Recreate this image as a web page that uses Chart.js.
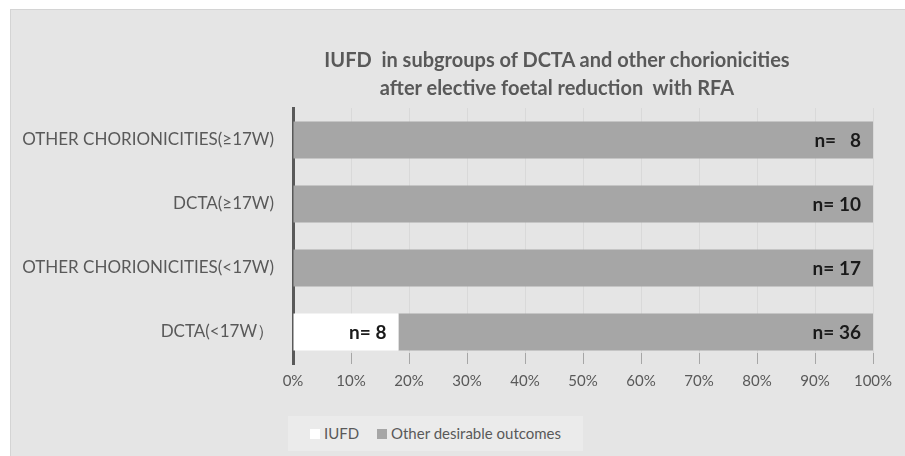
<!DOCTYPE html>
<html>
<head>
<meta charset="utf-8">
<script src="https://cdn.jsdelivr.net/npm/chart.js@4.4.1/dist/chart.umd.min.js"></script>
<style>
  body { margin: 0; background: #fff; }
  #wrap {
    position: absolute; left: 10px; top: 9px; width: 895px; height: 447px;
    background: #e5e5e5; border-top: 1px solid #d4d4d4; border-left: 1px solid #d4d4d4;
    box-sizing: border-box; font-family: Lato, "Open Sans", sans-serif;
  }
  #title {
    position: absolute; left: 246px; width: 600px; top: 35px; text-align: center;
    color: #595959; font-weight: bold; font-size: 20px; line-height: 28px;
  }
  #legend {
    position: absolute; left: 277px; top: 406px; width: 295px; height: 35px;
    background: #ebebeb; color: #595959; font-size: 15px;
  }
  #legend span.item { position: absolute; top: 8px; white-space: nowrap; }
  #legend i { display: inline-block; width: 10px; height: 10px; margin-right: 4px; vertical-align: 0px; }
  canvas { position: absolute; left: 0; top: 0; }
</style>
</head>
<body>
<div id="wrap">
  <canvas id="iufdChart" width="894" height="446"></canvas>
  <div id="title">IUFD&nbsp; in subgroups of DCTA and other chorionicities<br>after elective foetal reduction&nbsp; with RFA</div>
  <div id="legend"></div>
</div>
<script>
// Data
const categories = ["OTHER CHORIONICITIES(≥17W)", "DCTA(≥17W)", "OTHER CHORIONICITIES(<17W)", "DCTA(<17W\uFF09"];
const iufdCounts = [0, 0, 0, 8];
const otherCounts = [8, 10, 17, 36];
const seriesNames = ["IUFD", "Other desirable outcomes"];
const seriesColors = ["#ffffff", "#a6a6a6"];
const xTicks = [0, 10, 20, 30, 40, 50, 60, 70, 80, 90, 100];

const totals = iufdCounts.map((v, i) => v + otherCounts[i]);
const toPct = (arr) => arr.map((v, i) => (v / totals[i]) * 100);

// n= labels inside bars
const nLabels = {
  id: "nLabels",
  afterDatasetsDraw(chart) {
    const ctx = chart.ctx;
    ctx.save();
    ctx.font = "bold 19px Lato, 'Open Sans', sans-serif";
    ctx.fillStyle = "#1a1a1a";
    ctx.textAlign = "right";
    ctx.textBaseline = "middle";
    const counts = [iufdCounts, otherCounts];
    chart.data.datasets.forEach((ds, di) => {
      chart.getDatasetMeta(di).data.forEach((bar, i) => {
        const v = counts[di][i];
        if (!v) return;
        let txt = "n= " + v;
        if (di === 1 && v < 10) txt = "n=   " + v;
        ctx.fillText(txt, bar.x - 12, bar.y + 1);
      });
    });
    ctx.restore();
  },
};

// darker tick marks under the last bar
const tickMarks = {
  id: "tickMarks",
  afterDraw(chart) {
    const ctx = chart.ctx;
    const xs = chart.scales.x;
    const a = chart.chartArea;
    ctx.save();
    ctx.strokeStyle = "#a6a6a6";
    ctx.lineWidth = 1;
    xTicks.forEach((t) => {
      const x = Math.round(xs.getPixelForValue(t)) + 0.5;
      if (t === 0) return;
      ctx.beginPath();
      ctx.moveTo(x, a.bottom - 11);
      ctx.lineTo(x, a.bottom);
      ctx.stroke();
    });
    ctx.restore();
  },
};

const chartEl = document.getElementById("iufdChart");
new Chart(chartEl.getContext("2d"), {
  type: "bar",
  data: {
    labels: categories,
    datasets: [
      {
        label: seriesNames[0],
        data: toPct(iufdCounts),
        backgroundColor: seriesColors[0],
        borderWidth: 0,
        categoryPercentage: 1,
        barPercentage: 0.58,
      },
      {
        label: seriesNames[1],
        data: toPct(otherCounts),
        backgroundColor: seriesColors[1],
        borderWidth: 0,
        categoryPercentage: 1,
        barPercentage: 0.58,
      },
    ],
  },
  options: {
    indexAxis: "y",
    responsive: false,
    animation: false,
    layout: { padding: { left: 0, top: 98, right: 32, bottom: 0 } },
    plugins: {
      legend: { display: false },
      title: { display: false },
      tooltip: { enabled: false },
    },
    scales: {
      x: {
        stacked: true,
        min: 0,
        max: 100,
        afterBuildTicks: (s) => { s.ticks = xTicks.map((v) => ({ value: v })); },
        afterFit: (s) => { s.height = 92; },
        ticks: {
          padding: 8,
          color: "#595959",
          font: { size: 15, family: "Lato, 'Open Sans', sans-serif" },
          callback: (v) => v + "%",
        },
        grid: { color: "#d9d9d9", drawTicks: false },
        border: { display: false },
      },
      y: {
        stacked: true,
        afterFit: (s) => { s.width = 282; },
        ticks: {
          padding: 19,
          color: "#595959",
          font: { size: 17, family: "Lato, 'Open Sans', sans-serif" },
        },
        grid: { display: false, drawTicks: false },
        border: { display: true, color: "#595959", width: 3 },
      },
    },
  },
  plugins: [nLabels, tickMarks],
});

// legend
const legendEl = document.getElementById("legend");
const legendX = [22, 89];
seriesNames.forEach((name, i) => {
  const item = document.createElement("span");
  item.className = "item";
  item.style.left = legendX[i] + "px";
  item.innerHTML = '<i style="background:' + seriesColors[i] + '"></i>' + name;
  legendEl.appendChild(item);
});
</script>
</body>
</html>
